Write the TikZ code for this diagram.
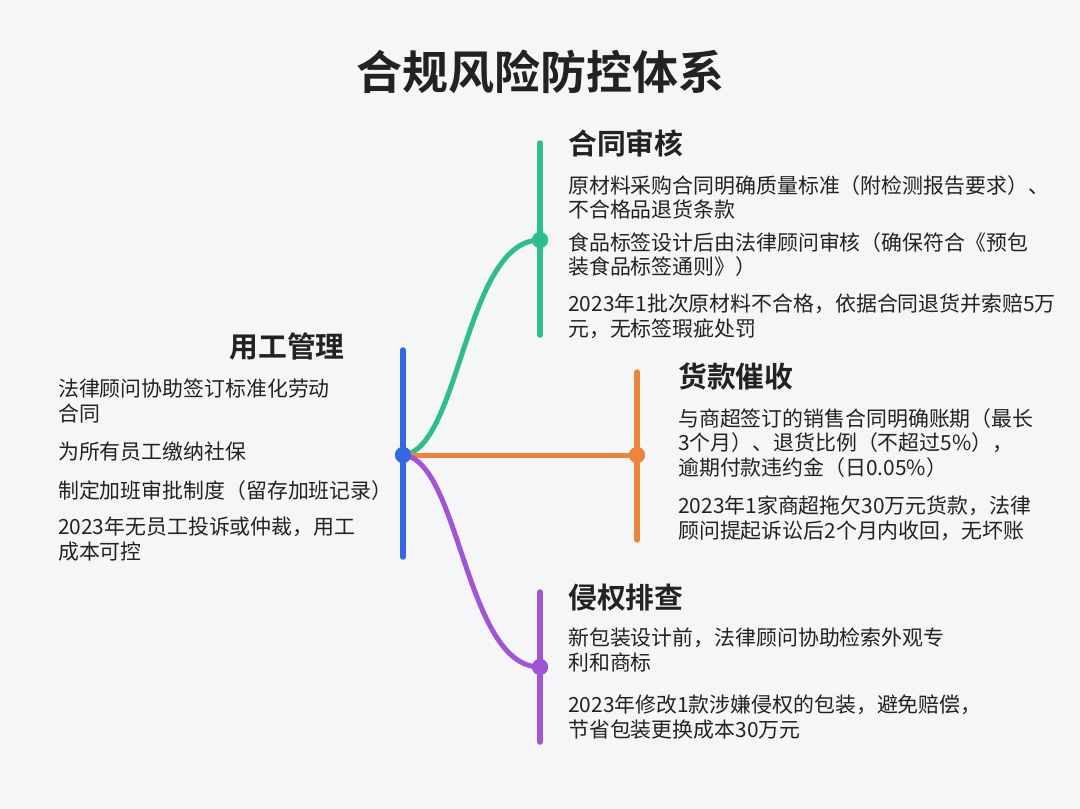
\documentclass[tikz,border=0pt]{standalone}
\usepackage{fontspec}
\setmainfont{Noto Sans CJK SC}[BoldFont={* Bold}]
\definecolor{bgc}{RGB}{244,246,248}
\definecolor{txt}{RGB}{34,34,34}
\definecolor{cgreen}{RGB}{46,190,140}
\definecolor{cblue}{RGB}{52,104,222}
\definecolor{corange}{RGB}{236,132,62}
\definecolor{cpurple}{RGB}{162,84,214}
\tikzset{
  branch/.style={line width=5.5pt, line cap=round},
  hub/.style={circle, fill=#1, inner sep=0pt, minimum size=16pt},
  heading/.style={font=\fontsize{28.8}{31}\selectfont\bfseries, text=txt, inner sep=0pt, anchor=west},
  item/.style={font=\fontsize{20.9}{24.5}\selectfont, text=txt, inner sep=0pt, anchor=north west, align=left}
}
\begin{document}
\begin{tikzpicture}[x=1pt,y=-1pt]
\fill[bgc] (0,0) rectangle (1080,809);
\useasboundingbox (0,0) rectangle (1080,809);
% title
\node[font=\fontsize{46}{50}\selectfont\bfseries, text=txt, inner sep=0pt] (title) at (540,72) {合规风险防控体系};
% hubs
\coordinate (bt) at (403,350); \coordinate (bb) at (403,557);
\coordinate (gt) at (540,143); \coordinate (gb) at (540,335);
\coordinate (ot) at (637,372); \coordinate (ob) at (637,540);
\coordinate (pt) at (540,592); \coordinate (pb) at (540,742);
\draw[branch, cblue] (bt) -- (bb);
\draw[branch, cgreen] (gt) -- (gb);
\draw[branch, corange] (ot) -- (ob);
\draw[branch, cpurple] (pt) -- (pb);
\node[hub=cblue] (b) at (403,455) {};
\node[hub=cgreen] (g) at (540,240) {};
\node[hub=corange] (o) at (637,455) {};
\node[hub=cpurple] (p) at (540,667) {};
\draw[line width=5pt, cgreen] (b.center) .. controls (460,450) and (465,240) .. (g.center);
\draw[line width=5pt, corange] (b.center) -- (o.center);
\draw[line width=5pt, cpurple] (b.center) .. controls (460,460) and (465,667) .. (p.center);
\node[hub=cblue] at (b) {};
\node[hub=cgreen] at (g) {};
\node[hub=corange] at (o) {};
\node[hub=cpurple] at (p) {};
% green
\node[heading] (h1) at (568,143) {合同审核};
\node[item] (g1) at (568,175) {原材料采购合同明确质量标准（附检测报告要求）、\\不合格品退货条款};
\node[item] (g2) at (568,232) {食品标签设计后由法律顾问审核（确保符合《预包\\装食品标签通则》）};
\node[item] (g3) at (568,294) {2023年1批次原材料不合格，依据合同退货并索赔5万\\元，无标签瑕疵处罚};
% blue
\node[heading, anchor=center] (h2) at (287,347) {用工管理};
\node[item] (b1) at (58,379) {法律顾问协助签订标准化劳动\\合同};
\node[item] (b2) at (58,442) {为所有员工缴纳社保};
\node[item] (b3) at (58,480) {制定加班审批制度（留存加班记录）};
\node[item] (b4) at (58,517) {2023年无员工投诉或仲裁，用工\\成本可控};
% orange
\node[heading] (h3) at (678,376) {货款催收};
\node[item] (o1) at (678,408) {与商超签订的销售合同明确账期（最长\\3个月）、退货比例（不超过5\%），\\逾期付款违约金（日0.05\%）};
\node[item] (o2) at (678,496) {2023年1家商超拖欠30万元货款，法律\\顾问提起诉讼后2个月内收回，无坏账};
% purple
\node[heading] (h4) at (568,598) {侵权排查};
\node[item] (p1) at (568,628) {新包装设计前，法律顾问协助检索外观专\\利和商标};
\node[item] (p2) at (568,695) {2023年修改1款涉嫌侵权的包装，避免赔偿，\\节省包装更换成本30万元};
\end{tikzpicture}
\end{document}
